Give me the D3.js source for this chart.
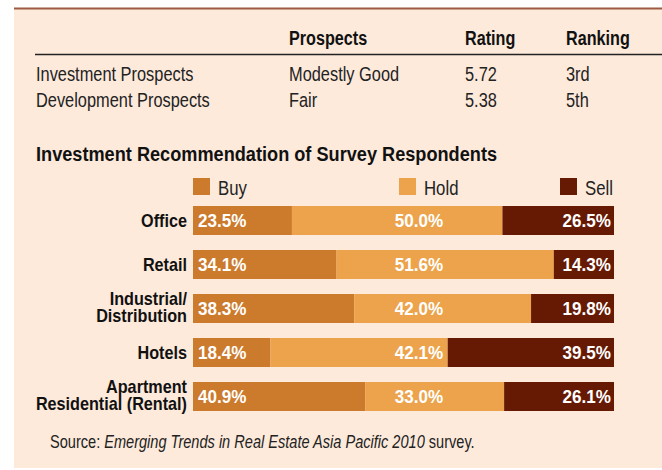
<!DOCTYPE html>
<html>
<head>
<meta charset="utf-8">
<script src="https://cdn.jsdelivr.net/npm/d3@7"></script>
<style>
  body { margin: 0; background: #fff; }
  svg { display: block; }
  text { font-family: "Liberation Sans", Arial, sans-serif; }
</style>
</head>
<body>
<svg id="chart" width="662" height="470"></svg>
<script>
// table at the top
const tableHeaders = ['Prospects', 'Rating', 'Ranking'];
const tableRows = ['Investment Prospects', 'Development Prospects'];
const prospects = ['Modestly Good', 'Fair'];
const ratings = ['5.72', '5.38'];
const rankings = ['3rd', '5th'];

// survey bars
const categories = [['Office'], ['Retail'], ['Industrial/', 'Distribution'], ['Hotels'], ['Apartment', 'Residential (Rental)']];
const seriesNames = ['Buy', 'Hold', 'Sell'];
const buyValues = [23.5, 34.1, 38.3, 18.4, 40.9];
const holdValues = [50.0, 51.6, 42.0, 42.1, 33.0];
const sellValues = [26.5, 14.3, 19.8, 39.5, 26.1];

const colors = ['#cc7a2b', '#eca34b', '#661a04'];

const svg = d3.select('#chart');

// no condensed font installed, so squeeze text horizontally around its anchor
function squeeze(sel, k) {
  sel.attr('transform', function () {
    const ax = +this.getAttribute('x');
    return `translate(${ax},0) scale(${k},1) translate(${-ax},0)`;
  });
}

// panel
svg.append('rect').attr('x', 14).attr('y', 8).attr('width', 648).attr('height', 460).attr('fill', '#fdeadb');
svg.append('line').attr('x1', 14).attr('x2', 662).attr('y1', 8.5).attr('y2', 8.5)
  .attr('stroke', '#9c5a42').attr('stroke-width', 2);

// table
const colX = [289, 465, 566];
const table = svg.append('g');
table.selectAll('text.head')
  .data(tableHeaders)
  .enter()
  .append('text')
  .attr('class', 'head')
  .attr('x', (d, i) => colX[i])
  .attr('y', 45)
  .attr('font-size', 19.5)
  .attr('font-weight', 'bold')
  .attr('fill', '#111')
  .text(d => d)
  .call(squeeze, 0.83);

table.append('line').attr('x1', 35).attr('x2', 662).attr('y1', 54.5).attr('y2', 54.5)
  .attr('stroke', '#222').attr('stroke-width', 1.5);

tableRows.forEach((name, r) => {
  const ty = 81 + r * 26.5;
  const cells = [name, prospects[r], ratings[r], rankings[r]];
  table.selectAll(null)
    .data(cells)
    .enter()
    .append('text')
    .attr('x', (d, i) => i === 0 ? 36 : colX[i - 1])
    .attr('y', ty)
    .attr('font-size', 19.5)
    .attr('fill', '#222')
    .text(d => d)
    .call(squeeze, 0.84);
});

// title
svg.append('text')
  .attr('x', 36).attr('y', 161)
  .attr('font-size', 20.5)
  .attr('font-weight', 'bold')
  .attr('fill', '#111')
  .text('Investment Recommendation of Survey Respondents')
  .call(squeeze, 0.886);

// legend
const legendX = [193, 399, 560];
const legend = svg.append('g')
  .selectAll('g')
  .data(seriesNames)
  .enter()
  .append('g')
  .attr('transform', (d, i) => `translate(${legendX[i]},178)`);
legend.append('rect').attr('width', 17).attr('height', 17).attr('fill', (d, i) => colors[i]);
legend.append('text').attr('x', 25).attr('y', 17).attr('font-size', 19.5).attr('fill', '#222')
  .text(d => d)
  .call(squeeze, 0.86);

// bars
const rows = categories.map((c, i) => ({ label: c, Buy: buyValues[i], Hold: holdValues[i], Sell: sellValues[i] }));
const stack = d3.stack().keys(seriesNames)(rows);

const x = d3.scaleLinear().domain([0, 100]).range([193, 614]).clamp(true);
// each bar is 29 tall, rows 44 apart
const y = d3.scaleBand()
  .domain(d3.range(categories.length))
  .range([206, 206 + 44 * categories.length - 15])
  .paddingInner(15 / 44)
  .paddingOuter(0);

const barG = svg.append('g');
barG.selectAll('g')
  .data(stack)
  .enter()
  .append('g')
  .attr('fill', (d, i) => colors[i])
  .selectAll('rect')
  .data(d => d)
  .enter()
  .append('rect')
  .attr('x', d => x(d[0]))
  .attr('width', d => x(d[1]) - x(d[0]))
  .attr('y', (d, i) => y(i))
  .attr('height', y.bandwidth());

// value labels
const labelG = svg.append('g').attr('fill', '#fff').attr('font-weight', 'bold').attr('font-size', 18);
rows.forEach((r, i) => {
  const cy = y(i) + y.bandwidth() / 2 + 7;
  labelG.append('text').attr('x', x(0) + 5).attr('y', cy).text(r.Buy.toFixed(1) + '%').call(squeeze, 0.95);
  labelG.append('text').attr('x', 419).attr('y', cy).attr('text-anchor', 'middle').text(r.Hold.toFixed(1) + '%').call(squeeze, 0.95);
  labelG.append('text').attr('x', x(100) - 3).attr('y', cy).attr('text-anchor', 'end').text(r.Sell.toFixed(1) + '%').call(squeeze, 0.95);
});

// category labels
const catG = svg.append('g').attr('font-weight', 'bold').attr('font-size', 18).attr('fill', '#111').attr('text-anchor', 'end');
categories.forEach((lines, i) => {
  const cy = y(i) + y.bandwidth() / 2;
  const t = catG.append('text').attr('x', 187);
  lines.forEach((line, j) => {
    const base = lines.length === 1 ? cy + 7 : cy - 3.5 + j * 17.5;
    t.append('tspan').attr('x', 187).attr('y', base).text(line);
  });
  t.call(squeeze, 0.9);
});

// source
const src = svg.append('text').attr('x', 50).attr('y', 448).attr('font-size', 18).attr('fill', '#222');
src.append('tspan').text('Source: ');
src.append('tspan').attr('font-style', 'italic').text('Emerging Trends in Real Estate Asia Pacific 2010');
src.append('tspan').text(' survey.');
src.call(squeeze, 0.81);
</script>
</body>
</html>
